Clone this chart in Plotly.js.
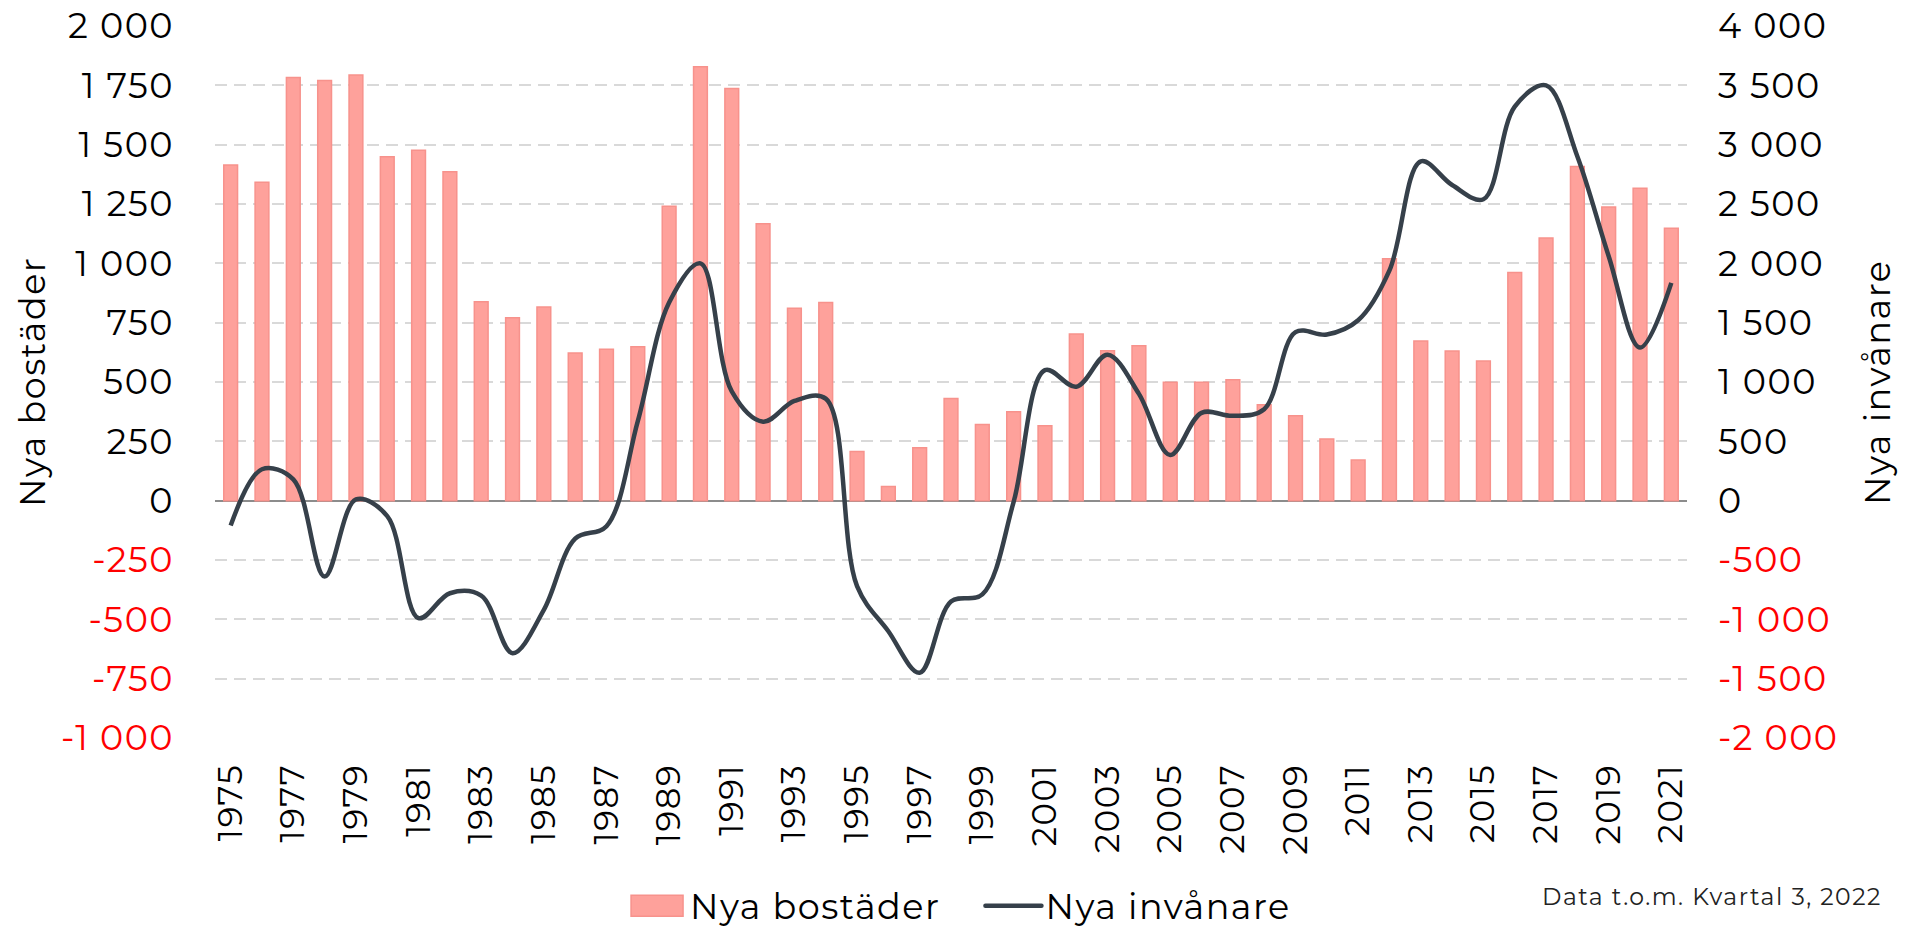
<!DOCTYPE html>
<html>
<head>
<meta charset="utf-8">
<script src="https://cdn.plot.ly/plotly-3.0.1.min.js"></script>
<style>
html,body{margin:0;padding:0;background:#ffffff;}
#chart{width:1911px;height:932px;}
svg text{letter-spacing:1.5px;}
</style>
</head>
<body>
<div id="chart"></div>
<script>
const years = ["1975","1976","1977","1978","1979","1980","1981","1982","1983","1984",
  "1985","1986","1987","1988","1989","1990","1991","1992","1993","1994",
  "1995","1996","1997","1998","1999","2000","2001","2002","2003","2004",
  "2005","2006","2007","2008","2009","2010","2011","2012","2013","2014",
  "2015","2016","2017","2018","2019","2020","2021"];

const nyaBostader = [1414,1342,1783,1770,1794,1449,1476,1386,838,771,
  816,622,638,649,1241,1828,1737,1167,811,835,
  207,60,223,430,321,375,316,702,632,653,
  499,499,510,404,358,260,171,1019,673,631,
  589,961,1107,1408,1237,1316,1148];

const nyaInvanare = [-210,265,180,-640,10,-130,-990,-780,-800,-1285,
  -920,-320,-215,670,1670,2000,920,665,840,860,
  -720,-1100,-1450,-850,-790,-10,1100,960,1230,900,
  385,740,715,770,1420,1400,1520,1940,2860,2660,
  2540,3320,3500,2900,2060,1290,1835];

const xTickYears = ["1975","1977","1979","1981","1983","1985","1987","1989","1991","1993",
  "1995","1997","1999","2001","2003","2005","2007","2009","2011","2013",
  "2015","2017","2019","2021"];

const leftTickVals = [-1000,-750,-500,-250,0,250,500,750,1000,1250,1500,1750,2000];
const leftTickText = ["-1 000","-750","-500","-250","0","250","500","750","1 000","1 250","1 500","1 750","2 000"];
const rightTickVals = [-2000,-1500,-1000,-500,0,500,1000,1500,2000,2500,3000,3500,4000];
const rightTickText = ["-2 000","-1 500","-1 000","-500","0","500","1 000","1 500","2 000","2 500","3 000","3 500","4 000"];

const FONT = "Montserrat, Inter, 'DejaVu Sans', sans-serif";
const NEG = "#FF0000";
const BAR_FILL = "#FEA19B";
const BAR_EDGE = "#F7928C";
const LINE_COLOR = "#36404A";

function colorTicks(vals, texts) {
  return texts.map((t, i) => vals[i] < 0 ? '<span style="color:' + NEG + '">' + t + '</span>' : t);
}

const traces = [
  {
    type: "bar",
    name: "Nya bostäder",
    x: years,
    y: nyaBostader,
    width: 0.44,
    marker: {color: BAR_FILL, line: {color: BAR_EDGE, width: 1.5}},
    hoverinfo: "x+y"
  },
  {
    type: "scatter",
    mode: "lines",
    name: "Nya invånare",
    x: years,
    y: nyaInvanare,
    yaxis: "y2",
    line: {color: LINE_COLOR, width: 4.5, shape: "spline", smoothing: 1},
    hoverinfo: "x+y"
  }
];

const layout = {
  width: 1911,
  height: 932,
  paper_bgcolor: "#ffffff",
  plot_bgcolor: "#ffffff",
  font: {family: FONT, size: 35, color: "#000000"},
  margin: {l: 215, r: 224, t: 26, b: 194, pad: 0},
  showlegend: true,
  legend: {
    orientation: "h",
    xref: "paper", yref: "container",
    x: 0.4946, xanchor: "center",
    y: 0.028, yanchor: "middle",
    font: {family: FONT, size: 35, color: "#000000"},
    itemwidth: 90,
    traceorder: "normal",
    bgcolor: "rgba(0,0,0,0)"
  },
  xaxis: {
    type: "category",
    tickmode: "array",
    tickvals: xTickYears,
    ticktext: xTickYears,
    tickangle: -90,
    tickfont: {family: FONT, size: 34, color: "#000000"},
    ticklabelstandoff: 18,
    automargin: false,
    showgrid: false,
    zeroline: false,
    showline: false,
    ticks: ""
  },
  yaxis: {
    range: [-1000, 2000],
    tickmode: "array",
    tickvals: leftTickVals,
    ticktext: colorTicks(leftTickVals, leftTickText),
    tickfont: {family: FONT, size: 35, color: "#000000"},
    ticklabelstandoff: 40,
    automargin: false,
    showgrid: true,
    gridcolor: "#D9D9D9",
    gridwidth: 2,
    griddash: "12px,7px",
    zeroline: true,
    zerolinecolor: "#8C8C8C",
    zerolinewidth: 2,
    showline: false,
    ticks: ""
  },
  yaxis2: {
    overlaying: "y",
    side: "right",
    range: [-2000, 4000],
    tickmode: "array",
    tickvals: rightTickVals,
    ticktext: colorTicks(rightTickVals, rightTickText),
    tickfont: {family: FONT, size: 35, color: "#000000"},
    ticklabelstandoff: 30,
    automargin: false,
    showgrid: false,
    zeroline: false,
    showline: false,
    ticks: ""
  },
  annotations: [
    {
      text: "Nya bostäder",
      xref: "paper", yref: "paper",
      x: -0.1243, y: 0.5,
      xanchor: "center", yanchor: "middle",
      textangle: -90,
      showarrow: false,
      font: {family: FONT, size: 35, color: "#000000"}
    },
    {
      text: "Nya invånare",
      xref: "paper", yref: "paper",
      x: 1.129, y: 0.5,
      xanchor: "center", yanchor: "middle",
      textangle: -90,
      showarrow: false,
      font: {family: FONT, size: 35, color: "#000000"}
    },
    {
      text: "Data t.o.m. Kvartal 3, 2022",
      xref: "paper", yref: "paper",
      x: 1.1338, y: -0.222,
      xanchor: "right", yanchor: "middle",
      showarrow: false,
      font: {family: FONT, size: 23.5, color: "#222222"}
    }
  ]
};

// Reshape the legend symbols to match the wide swatch / long line of the original.
function restyleLegend(gd) {
  const items = gd.querySelectorAll('.legend .traces');
  items.forEach((item, idx) => {
    const txt = item.querySelector('text.legendtext');
    if (!txt) return;
    const tb = txt.getBoundingClientRect();
    item.querySelectorAll('.legendpoints path, .legendlines path').forEach(p => {
      const ctm = p.getScreenCTM();
      if (!ctm) return;
      const m = ctm.inverse();
      if (idx === 0) {
        const right = new DOMPoint(tb.left - 7, 0).matrixTransform(m).x;
        const left = right - 52;
        p.setAttribute('d', 'M' + right + ',10.5H' + left + 'V-10.5H' + right + 'Z');
      } else {
        const right = new DOMPoint(tb.left - 4, 0).matrixTransform(m).x;
        p.setAttribute('d', 'M' + (right - 56) + ',0H' + right);
        p.style.strokeLinecap = 'round';
      }
    });
  });
}

Plotly.newPlot("chart", traces, layout, {displayModeBar: false}).then(restyleLegend);
</script>
</body>
</html>
